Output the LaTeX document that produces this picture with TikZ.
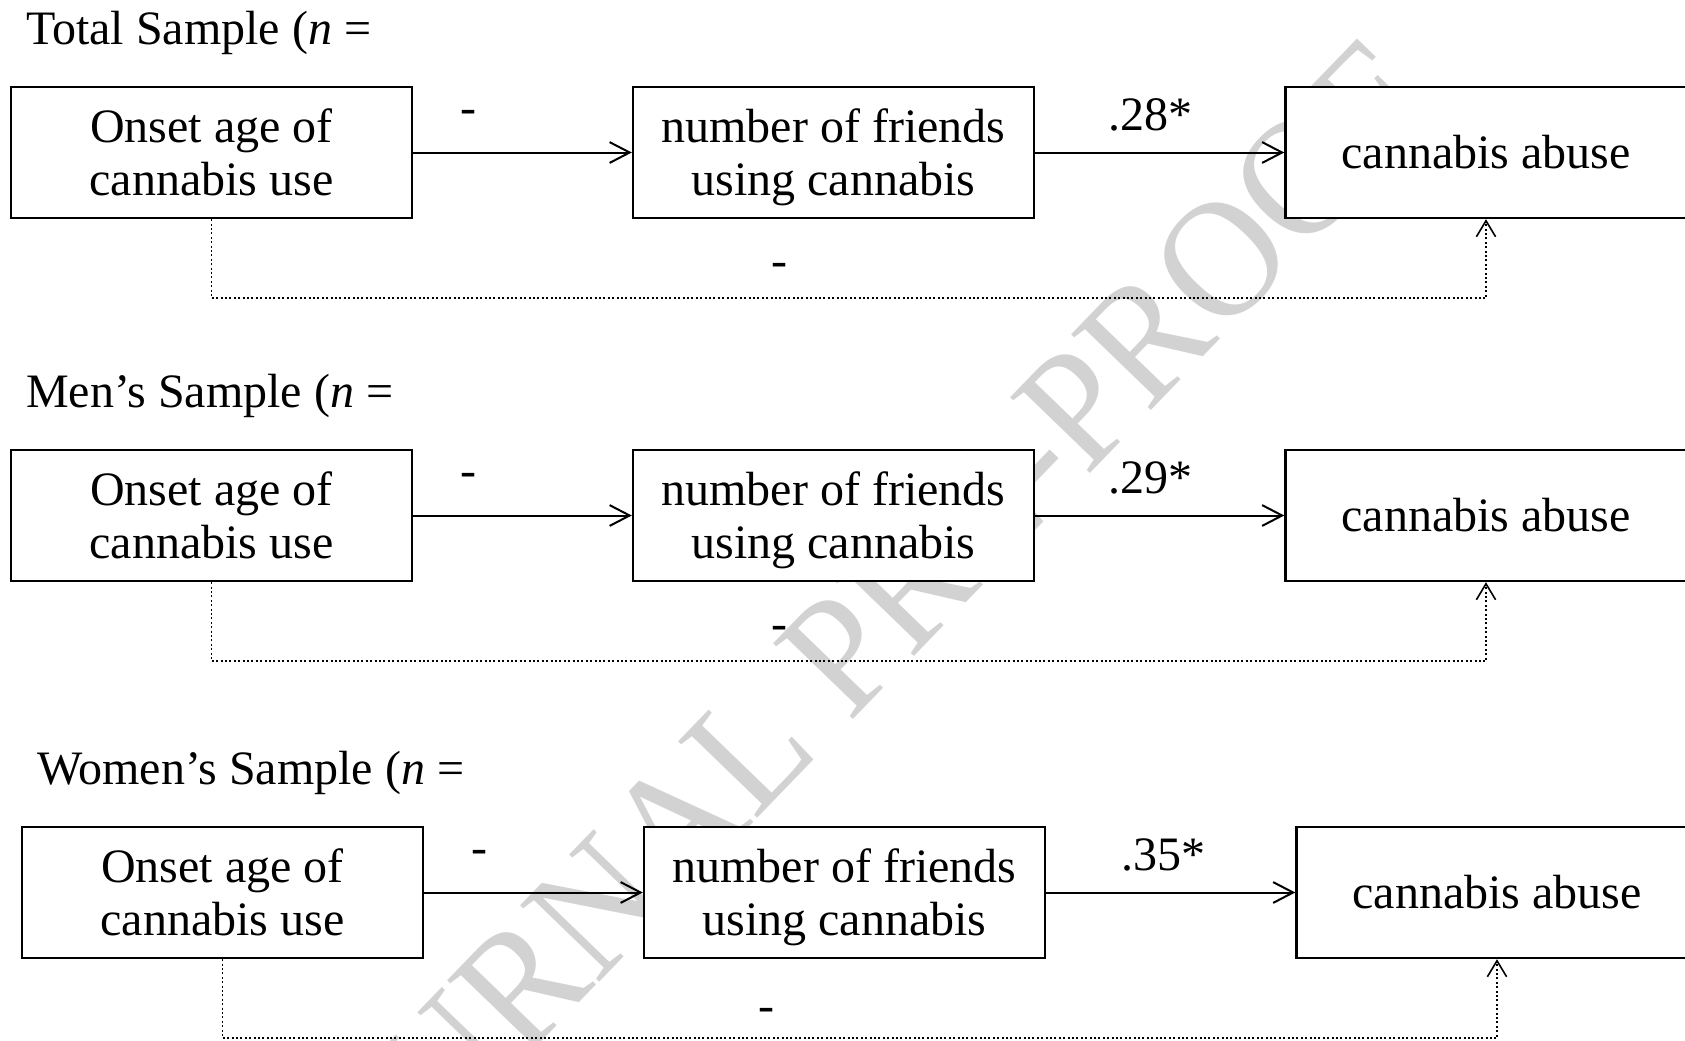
\documentclass[tikz,border=0pt]{standalone}
\usepackage{fontspec}
\setmainfont{Liberation Serif}
\newfontfamily\stampfont[FakeStretch=0.94]{Liberation Serif}
\usetikzlibrary{arrows.meta}

\begin{document}
\begin{tikzpicture}[x=0.25pt, y=-0.25pt,
    font=\fontsize{12pt}{13.4pt}\selectfont,
    box/.style={draw, line width=0.6pt, fill=white, minimum width=100.25pt, minimum height=32.75pt, inner sep=0pt, align=center},
    link/.style={line width=0.5pt, -{Straight Barb[length=5pt, width=5.2pt]}},
    direct/.style={line width=0.4pt, dash pattern=on 0.5pt off 0.6pt, -{Straight Barb[length=4pt, width=4.8pt]}}]
    \useasboundingbox (0,0) rectangle (1685,1041);
    \clip (0,0) rectangle (1685,1041);

    % Watermark
    \node[rotate=46, text=gray!35, font=\stampfont\fontsize{42pt}{42pt}\selectfont] (stamp) at (842,652) {JOURNAL PRE-PROOF};

    % Total sample
    \node[anchor=base west] (titleA) at (12,44) {Total Sample (\textit{n} =};
    \node[box] (onsetA) at (211.5,152.5) {Onset age of\\cannabis use};
    \node[box] (friendsA) at (833.5,152.5) {number of friends\\usin\smash{g} cannabis};
    \node[box] (abuseA) at (1486,152.5) {cannabis abuse};
    \draw[link] (onsetA) -- (friendsA);
    \draw[link] (friendsA) -- (abuseA);
    \draw[direct] (onsetA.south) -- ++(0,79) -| (abuseA.south);
    \node[anchor=base] (betaA1) at (468,123) {-};
    \node[anchor=base] (betaA2) at (1150,130) {.28*};
    \node[anchor=base] (betaA3) at (779,276) {-};

    % Men's sample
    \begin{scope}[shift={(0,363)}]
        \node[anchor=base west] (titleB) at (12,44) {Men’s Sample (\textit{n} =};
        \node[box] (onsetB) at (211.5,152.5) {Onset age of\\cannabis use};
        \node[box] (friendsB) at (833.5,152.5) {number of friends\\usin\smash{g} cannabis};
        \node[box] (abuseB) at (1486,152.5) {cannabis abuse};
        \draw[link] (onsetB) -- (friendsB);
        \draw[link] (friendsB) -- (abuseB);
        \draw[direct] (onsetB.south) -- ++(0,79) -| (abuseB.south);
        \node[anchor=base] (betaB1) at (468,123) {-};
        \node[anchor=base] (betaB2) at (1150,130) {.29*};
        \node[anchor=base] (betaB3) at (779,276) {-};
    \end{scope}

    % Women's sample
    \begin{scope}[shift={(11,740)}]
        \node[anchor=base west] (titleC) at (12,44) {Women’s Sample (\textit{n} =};
        \node[box] (onsetC) at (211.5,152.5) {Onset age of\\cannabis use};
        \node[box] (friendsC) at (833.5,152.5) {number of friends\\usin\smash{g} cannabis};
        \node[box] (abuseC) at (1486,152.5) {cannabis abuse};
        \draw[link] (onsetC) -- (friendsC);
        \draw[link] (friendsC) -- (abuseC);
        \draw[direct] (onsetC.south) -- ++(0,79) -| (abuseC.south);
        \node[anchor=base] (betaC1) at (468,123) {-};
        \node[anchor=base] (betaC2) at (1152,130) {.35*};
        \node[anchor=base] (betaC3) at (755,281) {-};
    \end{scope}
\end{tikzpicture}
\end{document}
